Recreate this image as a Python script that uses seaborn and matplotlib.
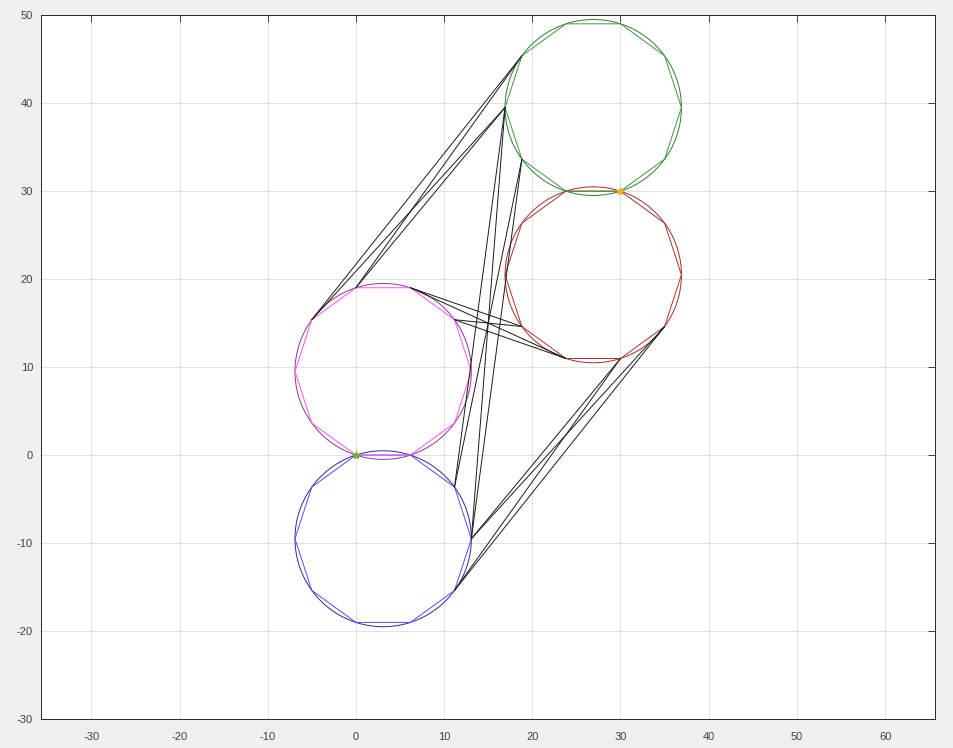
import numpy as np
import matplotlib
matplotlib.use("Agg")
import matplotlib.pyplot as plt
import seaborn as sns

# ---- data ----
circle_names = ["blue", "magenta", "red", "green"]
center_x = [3.09, 3.09, 26.91, 26.91]
center_y = [-9.51, 9.51, 20.49, 39.51]
radius = [10.0, 10.0, 10.0, 10.0]
n_sides = 10
circle_colors = ["#2a2a9a", "#8a3a8a", "#a82a2a", "#2e7d2e"]
poly_colors = ["#4d4dff", "#ff4dff", "#b03030", "#3a9a3a"]

# connections: (circle index, vertex index k -> angle 36*k deg)
link_from = [(1, 4), (1, 4), (1, 3), (1, 3),
             (3, 5), (3, 5), (3, 6), (3, 6),
             (1, 2), (1, 2), (1, 1), (1, 1),
             (0, 0), (0, 0), (0, 9), (0, 9)]
link_to = [(3, 4), (3, 5), (3, 4), (3, 5),
           (0, 1), (0, 0), (0, 1), (0, 0),
           (2, 6), (2, 7), (2, 6), (2, 7),
           (2, 8), (2, 9), (2, 8), (2, 9)]

star_x = [0, 30]
star_y = [0, 30]
star_colors = ["#77ac30", "#edb120"]

x_ticks = [-30, -20, -10, 0, 10, 20, 30, 40, 50, 60]
y_ticks = [-30, -20, -10, 0, 10, 20, 30, 40, 50]

# ---- drawing ----
sns.set_style("white")
plt.rcParams['font.family'] = ['Liberation Sans', 'DejaVu Sans']
plt.rcParams['axes.unicode_minus'] = False

fig = plt.figure(figsize=(9.54, 7.48), dpi=100, facecolor="#f0f0f0")
ax = fig.add_axes([41.4 / 954, (748 - 719) / 748, (935 - 41.4) / 954, (719 - 15.2) / 748])
ax.set_facecolor("white")

def vertex(ci, k):
    a = np.deg2rad(36.0 * k)
    return center_x[ci] + radius[ci] * np.cos(a), center_y[ci] + radius[ci] * np.sin(a)

t = np.linspace(0, 2 * np.pi, 400)
for ci in range(len(circle_names)):
    ax.plot(center_x[ci] + radius[ci] * np.cos(t), center_y[ci] + radius[ci] * np.sin(t),
            color=circle_colors[ci], lw=0.7, zorder=3)
    ks = list(range(n_sides)) + [0]
    pts = [vertex(ci, k) for k in ks]
    sns.lineplot(x=[p[0] for p in pts], y=[p[1] for p in pts], sort=False, estimator=None,
                 color=poly_colors[ci], lw=0.7, ax=ax, zorder=3)

for a, b in zip(link_from, link_to):
    p, q = vertex(*a), vertex(*b)
    ax.plot([p[0], q[0]], [p[1], q[1]], color="#1a1a1a", lw=0.7, zorder=4)

for sx, sy, sc in zip(star_x, star_y, star_colors):
    ax.plot(sx, sy, marker="*", color=sc, ms=6, mew=0.8, zorder=5)

ax.set_xlim(-35.66, 65.66)
ax.set_ylim(-30, 50)
ax.set_xticks(x_ticks)
ax.set_yticks(y_ticks)
ax.grid(True, color="#dcdcdc", lw=0.6)
ax.set_axisbelow(True)
ax.tick_params(direction="in", length=5, width=0.6, colors="#262626", labelsize=8,
               top=True, right=True, labelcolor="#404040")
ax.tick_params(axis="x", pad=9)
ax.tick_params(axis="y", pad=6)
for s in ax.spines.values():
    s.set_color("#262626")
    s.set_linewidth(0.7)
    s.set_visible(True)

fig.savefig("out.png", dpi=100, facecolor=fig.get_facecolor())
